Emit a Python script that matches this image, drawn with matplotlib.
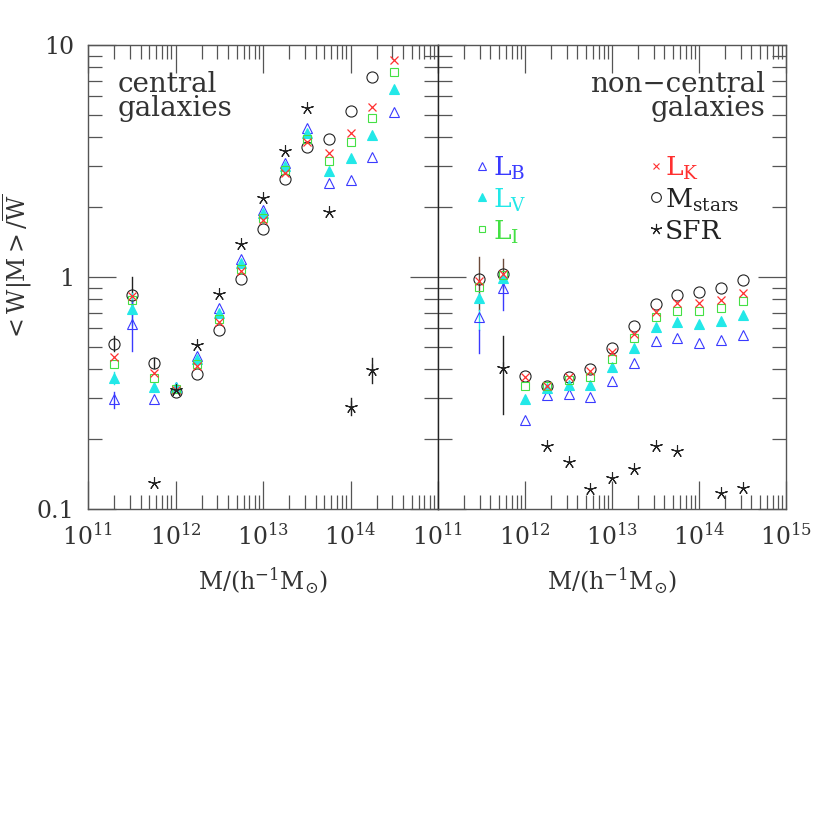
import numpy as np
import matplotlib
matplotlib.use("Agg")
import matplotlib.pyplot as plt
from matplotlib.ticker import LogLocator, NullFormatter, FixedLocator

plt.rcParams['font.family'] = ['DejaVu Serif']
plt.rcParams['mathtext.fontset'] = 'dejavuserif'

# halo mass bins (log10 M)
logm_cen = [11.3, 11.5, 11.75, 12.0, 12.25, 12.5, 12.75, 13.0, 13.25, 13.5, 13.75, 14.0, 14.25, 14.5]
logm_sat = [11.47, 11.75, 12.0, 12.25, 12.5, 12.75, 13.0, 13.25, 13.5, 13.75, 14.0, 14.25, 14.5]

nan = np.nan

# central galaxies
cen_LB = [0.297, 0.625, 0.297, 0.335, 0.458, 0.733, 1.19, 1.95, 3.11, 4.37, 2.53, 2.62, 3.28, 5.16]
cen_LV = [0.366, 0.728, 0.335, 0.335, 0.442, 0.697, 1.15, 1.88, 3.01, 4.16, 2.86, 3.25, 4.09, 6.46]
cen_LI = [0.422, 0.796, 0.366, 0.33, 0.422, 0.657, 1.08, 1.79, 2.89, 3.92, 3.17, 3.81, 4.83, 7.67]
cen_LK = [0.454, 0.83, 0.384, 0.325, 0.413, 0.642, 1.06, 1.76, 2.82, 3.83, 3.41, 4.19, 5.42, 8.61]
cen_Ms = [0.513, 0.839, 0.427, 0.32, 0.382, 0.591, 0.977, 1.61, 2.64, 3.62, 3.93, 5.2, 7.26, nan]
cen_SFR = [nan, nan, 0.13, 0.325, 0.509, 0.842, 1.39, 2.2, 3.49, 5.33, 1.9, 0.276, 0.397, nan]

# error bar ranges (lower, upper) for the central panel, nan = no bar drawn
cen_LB_lo = [0.272, 0.48] + [nan] * 12
cen_LB_hi = [0.32, 0.78] + [nan] * 12
cen_LV_lo = [0.345, 0.62] + [nan] * 12
cen_LV_hi = [0.39, 0.85] + [nan] * 12
cen_Ms_lo = [0.48, 0.69, 0.405] + [nan] * 11
cen_Ms_hi = [0.557, 1.0, 0.447] + [nan] * 11
cen_SFR_lo = [nan] * 11 + [0.253, 0.35, nan]
cen_SFR_hi = [nan] * 11 + [0.30, 0.446, nan]

# non-central galaxies
sat_LB = [0.674, 0.894, 0.242, 0.31, 0.313, 0.303, 0.357, 0.427, 0.53, 0.544, 0.518, 0.535, 0.562]
sat_LV = [0.81, 0.99, 0.297, 0.331, 0.342, 0.342, 0.408, 0.496, 0.611, 0.642, 0.627, 0.646, 0.686]
sat_LI = [0.903, 1.02, 0.339, 0.34, 0.358, 0.37, 0.442, 0.544, 0.67, 0.716, 0.716, 0.733, 0.788]
sat_LK = [0.964, 1.03, 0.369, 0.34, 0.372, 0.394, 0.476, 0.568, 0.705, 0.769, 0.769, 0.796, 0.856]
sat_Ms = [0.98, 1.03, 0.376, 0.339, 0.372, 0.401, 0.493, 0.615, 0.762, 0.839, 0.859, 0.894, 0.97]
sat_SFR = [nan, 0.407, nan, 0.186, 0.16, 0.122, 0.136, 0.148, 0.186, 0.178, nan, 0.117, 0.123]

sat_LB_lo = [0.47, 0.72] + [nan] * 11
sat_LB_hi = [0.59, 0.95] + [nan] * 11
sat_LV_lo = [0.59, nan] + [nan] * 11
sat_LV_hi = [0.72, nan] + [nan] * 11
sat_Ms_lo = [0.72, 0.9] + [nan] * 11
sat_Ms_hi = [1.22, 1.2] + [nan] * 11
sat_SFR_lo = [nan, 0.257] + [nan] * 11
sat_SFR_hi = [nan, 0.557] + [nan] * 11

c_B = '#3a3aff'
c_V = '#22e8e8'
c_I = '#44e044'
c_K = '#ff3030'
c_M = '#222222'
grey = '#555555'
txt = '#333333'

star = (5, 2, 0)

fig = plt.figure(figsize=(8.3, 8.3), dpi=100)
ax1 = fig.add_axes([88 / 830, 1 - 509 / 830, 350 / 830, 464 / 830])
ax2 = fig.add_axes([438 / 830, 1 - 509 / 830, 348 / 830, 464 / 830])


def errbars(ax, x, lo, hi, color):
    for xi, l, h in zip(x, lo, hi):
        if not (np.isnan(l) or np.isnan(h)):
            ax.plot([xi, xi], [l, h], color=color, lw=1.0, zorder=1)


def panel(ax, logm, LB, LV, LI, LK, Ms, SFR, errs):
    x = 10 ** np.array(logm)
    for lo, hi, col in errs:
        errbars(ax, x, lo, hi, col)
    ax.plot(x, Ms, 'o', ms=8, mfc='none', mec=c_M, mew=0.8, ls='none', zorder=3)
    ax.plot(x, LB, '^', ms=7, mfc='none', mec=c_B, mew=0.8, ls='none', zorder=3)
    ax.plot(x, LV, '^', ms=7, mfc=c_V, mec=c_V, mew=0.8, ls='none', zorder=3)
    ax.plot(x, LI, 's', ms=5.5, mfc='none', mec=c_I, mew=0.8, ls='none', zorder=3)
    ax.plot(x, LK, 'x', ms=6, mec=c_K, mew=0.9, ls='none', zorder=3)
    ax.plot(x, SFR, marker=star, ms=9, mec=c_M, mew=0.8, ls='none', zorder=3)

    ax.set_xscale('log')
    ax.set_yscale('log')
    ax.set_xlim(1e11, 1e15)
    ax.set_ylim(0.1, 10)
    ax.set_xticks([1e11, 1e12, 1e13, 1e14, 1e15])
    ax.xaxis.set_minor_locator(LogLocator(base=10, subs=np.arange(2, 10), numticks=20))
    ax.xaxis.set_minor_formatter(NullFormatter())
    ax.yaxis.set_major_locator(FixedLocator([0.1, 1, 10]))
    ax.yaxis.set_minor_locator(LogLocator(base=10, subs=np.arange(2, 10), numticks=20))
    ax.yaxis.set_minor_formatter(NullFormatter())
    ax.tick_params(which='both', direction='in', top=True, right=True, color=grey,
                   width=0.9, labelsize=17, labelcolor=txt)
    ax.tick_params(which='major', length=20, pad=10)
    ax.tick_params(which='minor', length=10)
    for s in ax.spines.values():
        s.set_color(grey)
        s.set_linewidth(1.0)
    ax.set_xlabel(r'M/(h$^{-1}$M$_{\odot}$)', fontsize=17, color=txt, labelpad=12)


panel(ax1, logm_cen, cen_LB, cen_LV, cen_LI, cen_LK, cen_Ms, cen_SFR,
      [(cen_Ms_lo, cen_Ms_hi, c_M), (cen_LV_lo, cen_LV_hi, c_V),
       (cen_LB_lo, cen_LB_hi, c_B), (cen_SFR_lo, cen_SFR_hi, c_M)])
panel(ax2, logm_sat, sat_LB, sat_LV, sat_LI, sat_LK, sat_Ms, sat_SFR,
      [(sat_Ms_lo, sat_Ms_hi, '#6b4a3a'), (sat_LV_lo, sat_LV_hi, c_V),
       (sat_LB_lo, sat_LB_hi, c_B), (sat_SFR_lo, sat_SFR_hi, c_M)])

ax1.set_xticklabels([r'$10^{11}$', r'$10^{12}$', r'$10^{13}$', r'$10^{14}$', ''])
ax2.set_xticklabels([r'$10^{11}$', r'$10^{12}$', r'$10^{13}$', r'$10^{14}$', r'$10^{15}$'])
ax1.set_yticklabels(['0.1', '1', '10'])
ax2.set_yticklabels([])
ax2.spines['left'].set_color('#222222')

ax1.set_ylabel(r'$<$W$|$M$>$/$\overline{\mathrm{W}}$', fontsize=17, color=txt)
ax1.yaxis.set_label_coords(-0.155, 0.52)

ax1.text(0.085, 0.945, 'central\ngalaxies', transform=ax1.transAxes, fontsize=20,
         color=txt, ha='left', va='top', linespacing=0.9)
ax2.text(0.94, 0.945, 'non\u2212central\ngalaxies', transform=ax2.transAxes, fontsize=20,
         color=txt, ha='right', va='top', linespacing=0.9, multialignment='right')

# legend entries drawn by hand in the right panel
leg_left = [(r'L$_{\rm B}$', c_B, dict(marker='^', mfc='none', mec=c_B, ms=6)),
            (r'L$_{\rm V}$', c_V, dict(marker='^', mfc=c_V, mec=c_V, ms=6)),
            (r'L$_{\rm I}$', c_I, dict(marker='s', mfc='none', mec=c_I, ms=5))]
leg_right = [(r'L$_{\rm K}$', c_K, dict(marker='x', mec=c_K, ms=5)),
             (r'M$_{\rm stars}$', c_M, dict(marker='o', mfc='none', mec=c_M, ms=7)),
             (r'SFR', c_M, dict(marker=star, mec=c_M, ms=8))]
ys = [0.739, 0.672, 0.603]
for (lab, col, mk), yy in zip(leg_left, ys):
    ax2.plot([0.126], [yy], transform=ax2.transAxes, ls='none', mew=0.8, **mk)
    ax2.text(0.157, yy - 0.006, lab, transform=ax2.transAxes, fontsize=19, color=col, va='center')
for (lab, col, mk), yy in zip(leg_right, ys):
    ax2.plot([0.626], [yy], transform=ax2.transAxes, ls='none', mew=0.8, **mk)
    ax2.text(0.653, yy - 0.006, lab, transform=ax2.transAxes, fontsize=19, color=col, va='center')

fig.savefig('out.png', dpi=100)
